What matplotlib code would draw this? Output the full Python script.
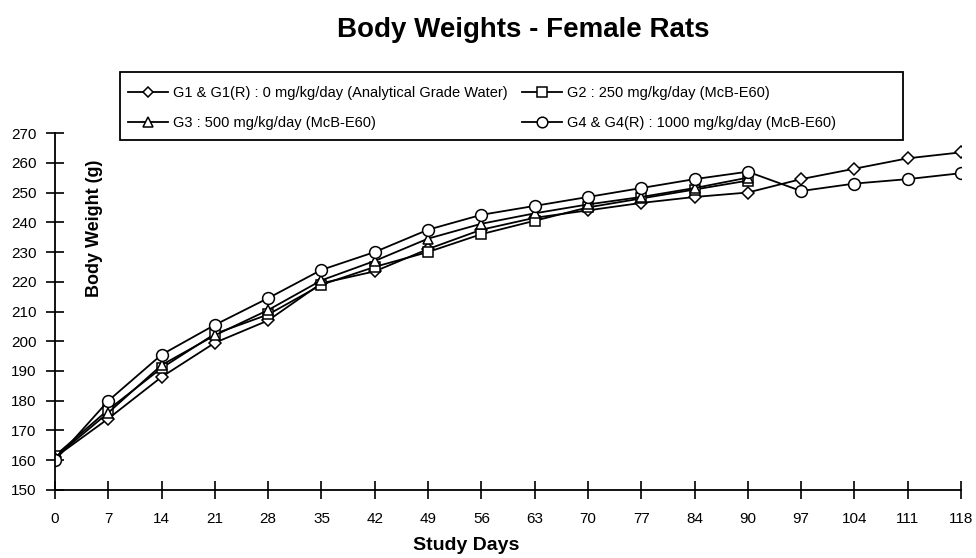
import matplotlib
matplotlib.use("Agg")
import matplotlib.pyplot as plt
from matplotlib.patches import Rectangle

plt.rcParams['font.family'] = ['Liberation Sans', 'DejaVu Sans']

# Study days (plotted as equally spaced categories)
days = ['0', '7', '14', '21', '28', '35', '42', '49', '56', '63',
        '70', '77', '84', '90', '97', '104', '111', '118']

# Mean body weights (g)
g1 = [161, 174, 188, 199.5, 207, 219.5, 223.5, 231, 237.5, 241.5,
      244, 246.5, 248.5, 250, 254.5, 258, 261.5, 263.5]
g2 = [161.5, 177, 191, 202.5, 209, 219, 225, 230, 236, 240.5,
      245, 248, 251, 254]
g3 = [161, 176, 192, 202, 210.5, 220.5, 227, 234.5, 239.5, 243,
      246, 248.5, 251.5, 255]
g4 = [160, 180, 195.5, 205.5, 214.5, 224, 230, 237.5, 242.5, 245.5,
      248.5, 251.5, 254.5, 257, 250.5, 253, 254.5, 256.5]

labels = ['G1 & G1(R) : 0 mg/kg/day (Analytical Grade Water)',
          'G2 : 250 mg/kg/day (McB-E60)',
          'G3 : 500 mg/kg/day (McB-E60)',
          'G4 & G4(R) : 1000 mg/kg/day (McB-E60)']

fig = plt.figure(figsize=(9.76, 5.58), dpi=100)
ax = fig.add_axes([0.0564, 0.1219, 0.9282, 0.6397])

style = dict(color='black', lw=1.3, mfc='white', mec='black', mew=1.1)
l1, = ax.plot(range(len(g1)), g1, marker='D', ms=6, label=labels[0], **style)
l2, = ax.plot(range(len(g2)), g2, marker='s', ms=7.5, label=labels[1], **style)
l3, = ax.plot(range(len(g3)), g3, marker='^', ms=7.5, label=labels[2], **style)
l4, = ax.plot(range(len(g4)), g4, marker='o', ms=8.5, label=labels[3], **style)

ax.set_xlim(0, len(days) - 1)
ax.set_ylim(150, 270)
ax.set_xticks(range(len(days)))
ax.set_xticklabels(days)
ax.set_yticks(range(150, 271, 10))
ax.tick_params(direction='inout', length=13, width=1.2, labelsize=11)
ax.tick_params(axis='x', pad=9)
ax.tick_params(axis='y', pad=7)
for s in ['top', 'right']:
    ax.spines[s].set_visible(False)
for s in ['left', 'bottom']:
    ax.spines[s].set_linewidth(1.3)
for lab in ax.get_xticklabels() + ax.get_yticklabels():
    lab.set_clip_on(False)

fig.text(0.0973, 0.591, 'Body Weight (g)', rotation=90,
         ha='center', va='center', fontsize=13, fontweight='bold')
fig.text(0.4775, 0.023, 'Study Days', ha='center', va='center',
         fontsize=14, fontweight='bold')
fig.text(0.536, 0.946, 'Body Weights - Female Rats', ha='center', va='center',
         fontsize=20, fontweight='bold')

# legend: two columns of entries inside one drawn box
leg_kw = dict(loc='center left', frameon=False, fontsize=10.5,
              handlelength=2.75, handletextpad=0.35, labelspacing=1.1,
              borderpad=0, borderaxespad=0, markerscale=0.9)
leg1 = fig.legend([l1, l3], [labels[0], labels[2]],
                  bbox_to_anchor=(0.1311, 0.807), **leg_kw)
leg2 = fig.legend([l2, l4], [labels[1], labels[3]],
                  bbox_to_anchor=(0.5348, 0.807), **leg_kw)
fig.add_artist(Rectangle((0.1229, 0.7484), 0.8023, 0.1219,
                         transform=fig.transFigure, fill=False,
                         edgecolor='black', lw=1.3))

fig.savefig('out.png', dpi=100)
